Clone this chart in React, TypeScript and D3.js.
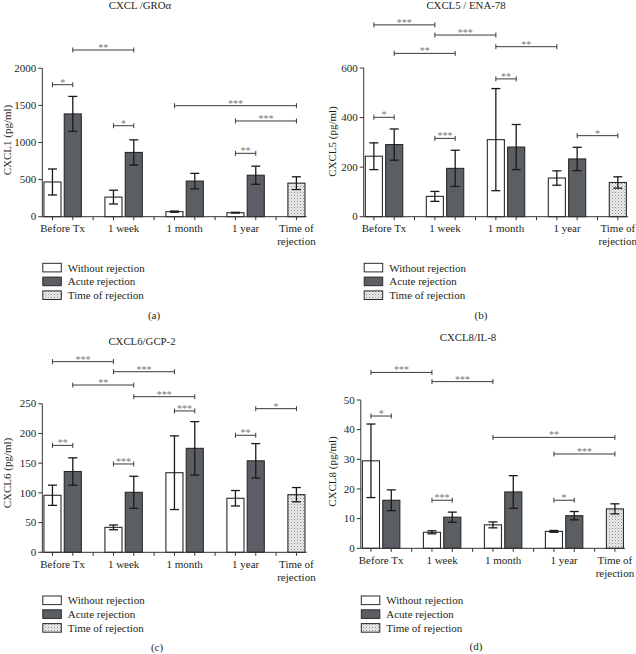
import React from "react";
import * as d3 from "d3";

// ---------- data ----------
const categories = ["Before Tx", "1 week", "1 month", "1 year"];
const torLabel = ["Time of", "rejection"];
const legendLabels = ["Without rejection", "Acute rejection", "Time of rejection"];

// (a) CXCL1
const withoutA = [468, 264, 68, 54];
const withoutAErr = [175, 93, 8, 5];
const acuteA = [1385, 866, 480, 559];
const acuteAErr = [236, 170, 104, 122];
const torA = [452];
const torAErr = [86];
const ticksA = [0, 500, 1000, 1500, 2000];
const bracketsA = [
  { from: 0, to: 1, y: 1779, label: "*" },
  { from: 1, to: 4, y: 2247, label: "**" },
  { from: 3, to: 4, y: 1226, label: "*" },
  { from: 6, to: 12, y: 1496, label: "***" },
  { from: 9, to: 12, y: 1290, label: "***" },
  { from: 9, to: 10, y: 854, label: "**" },
];

// (b) CXCL5
const withoutB = [244, 82, 311, 156];
const withoutBErr = [54, 20, 206, 29];
const acuteB = [291, 195, 281, 233];
const acuteBErr = [63, 73, 91, 47];
const torB = [138];
const torBErr = [23];
const ticksB = [0, 200, 400, 600];
const bracketsB = [
  { from: 0, to: 3, y: 774, label: "***" },
  { from: 3, to: 6, y: 733, label: "***" },
  { from: 1, to: 4, y: 659, label: "**" },
  { from: 6, to: 9, y: 686, label: "**" },
  { from: 6, to: 7, y: 556, label: "**" },
  { from: 0, to: 1, y: 401, label: "*" },
  { from: 3, to: 4, y: 316, label: "***" },
  { from: 10, to: 12, y: 327, label: "*" },
];

// (c) CXCL6
const withoutC = [96, 42, 134, 91];
const withoutCErr = [17, 4, 62, 13];
const acuteC = [136, 101, 175, 154];
const acuteCErr = [23, 27, 45, 29];
const torC = [97];
const torCErr = [12];
const ticksC = [0, 50, 100, 150, 200, 250];
const bracketsC = [
  { from: 0, to: 3, y: 321, label: "***" },
  { from: 3, to: 6, y: 304, label: "***" },
  { from: 1, to: 4, y: 281.6, label: "**" },
  { from: 4, to: 7, y: 262, label: "***" },
  { from: 6, to: 7, y: 238, label: "***" },
  { from: 10, to: 12, y: 241.8, label: "*" },
  { from: 0, to: 1, y: 180, label: "**" },
  { from: 3, to: 4, y: 148.7, label: "***" },
  { from: 9, to: 10, y: 197, label: "**" },
];

// (d) CXCL8
const withoutD = [29.5, 5.4, 7.9, 5.7];
const withoutDErr = [12.4, 0.5, 1, 0.3];
const acuteD = [16.2, 10.5, 19, 11];
const acuteDErr = [3.5, 1.7, 5.5, 1.4];
const torD = [13.3];
const torDErr = [1.7];
const ticksD = [0, 10, 20, 30, 40, 50];
const bracketsD = [
  { from: 0, to: 3, y: 59.3, label: "***" },
  { from: 3, to: 6, y: 56.2, label: "***" },
  { from: 0, to: 1, y: 44.6, label: "*" },
  { from: 6, to: 12, y: 37.4, label: "**" },
  { from: 9, to: 12, y: 31.8, label: "***" },
  { from: 3, to: 4, y: 16.2, label: "***" },
  { from: 9, to: 10, y: 16.2, label: "*" },
];

// ---------- layout ----------
const FONT = "'Liberation Serif', 'Times New Roman', serif";
const SLOT = 20.33;
const DARK = "#5b5f63";
const INK = "#231f20";

type Panel = {
  title: string;
  ylabel: string;
  tag: string;
  without: number[];
  withoutErr: number[];
  acute: number[];
  acuteErr: number[];
  tor: number[];
  torErr: number[];
  ticks: number[];
  brackets: { from: number; to: number; y: number; label: string }[];
  axisX: number;
  y0: number;
  yTop: number;
  titlePos: [number, number];
  ylabPos: [number, number];
  legendTop: number;
  tagPos: [number, number];
};

const panels: Panel[] = [
  {
    title: "CXCL /GROα", ylabel: "CXCL1 (pg/ml)", tag: "(a)",
    without: withoutA, withoutErr: withoutAErr, acute: acuteA, acuteErr: acuteAErr, tor: torA, torErr: torAErr,
    ticks: ticksA, brackets: bracketsA,
    axisX: 42.3, y0: 216.7, yTop: 68.3, titlePos: [140, 9], ylabPos: [10.5, 140], legendTop: 263.3, tagPos: [154, 319],
  },
  {
    title: "CXCL5 / ENA-78", ylabel: "CXCL5 (pg/ml)", tag: "(b)",
    without: withoutB, withoutErr: withoutBErr, acute: acuteB, acuteErr: acuteBErr, tor: torB, torErr: torBErr,
    ticks: ticksB, brackets: bracketsB,
    axisX: 363.7, y0: 216.7, yTop: 68, titlePos: [466, 8.5], ylabPos: [336, 141.5], legendTop: 263.3, tagPos: [481, 319],
  },
  {
    title: "CXCL6/GCP-2", ylabel: "CXCL6 (pg/ml)", tag: "(c)",
    without: withoutC, withoutErr: withoutCErr, acute: acuteC, acuteErr: acuteCErr, tor: torC, torErr: torCErr,
    ticks: ticksC, brackets: bracketsC,
    axisX: 42.3, y0: 552.3, yTop: 403.8, titlePos: [142, 345], ylabPos: [11, 473], legendTop: 596, tagPos: [157, 651],
  },
  {
    title: "CXCL8/IL-8", ylabel: "CXCL8 (pg/ml)", tag: "(d)",
    without: withoutD, withoutErr: withoutDErr, acute: acuteD, acuteErr: acuteDErr, tor: torD, torErr: torDErr,
    ticks: ticksD, brackets: bracketsD,
    axisX: 360.8, y0: 548.3, yTop: 400, titlePos: [468, 341], ylabPos: [336, 471.5], legendTop: 596, tagPos: [476, 650],
  },
];

function ChartPanel({ p, idx }: { p: Panel; idx: number }) {
  const x = d3
    .scaleBand<number>()
    .domain(d3.range(13))
    .range([p.axisX, p.axisX + 13 * SLOT])
    .paddingInner(0.16)
    .paddingOuter(0.08);
  const yMax = p.ticks[p.ticks.length - 1];
  const y = d3.scaleLinear().domain([0, yMax]).range([p.y0, p.yTop]);
  const bw = x.bandwidth();
  const cx = (s: number) => (x(s) as number) + bw / 2;

  type Bar = { slot: number; v: number; e: number; kind: number };
  const bars: Bar[] = [];
  categories.forEach((_, g) => {
    bars.push({ slot: 3 * g, v: p.without[g], e: p.withoutErr[g], kind: 0 });
    bars.push({ slot: 3 * g + 1, v: p.acute[g], e: p.acuteErr[g], kind: 1 });
  });
  p.tor.forEach((v, i) => bars.push({ slot: 12, v, e: p.torErr[i], kind: 2 }));

  const fills = ["#ffffff", DARK, `url(#dots${idx})`];
  const axisEnd = p.axisX + 13 * SLOT;
  const xlabY = p.y0 + 15.3;

  return (
    <g>
      <defs>
        <pattern id={`dots${idx}`} width={3} height={3} patternUnits="userSpaceOnUse">
          <rect width={3} height={3} fill="#ececec" />
          <rect x={0} y={0} width={1} height={1} fill="#8c8c8c" />
          <rect x={1.5} y={1.5} width={1} height={1} fill="#b0b0b0" />
        </pattern>
      </defs>
      {/* title */}
      <text x={p.titlePos[0]} y={p.titlePos[1]} textAnchor="middle" fontSize={10.8} fill={INK}>
        {p.title}
      </text>
      {/* y label */}
      <text
        transform={`translate(${p.ylabPos[0]},${p.ylabPos[1]}) rotate(-90)`}
        textAnchor="middle"
        fontSize={11}
        fill={INK}
      >
        {p.ylabel}
      </text>
      {/* bars */}
      {bars.map((b, i) => (
        <rect
          key={i}
          x={x(b.slot)}
          y={y(b.v)}
          width={bw}
          height={p.y0 - y(b.v)}
          fill={fills[b.kind]}
          stroke="#2a2a2a"
          strokeWidth={1.1}
        />
      ))}
      {/* error bars */}
      {bars.map((b, i) => {
        const c = cx(b.slot);
        const hi = y(b.v + b.e);
        const lo = y(Math.max(0, b.v - b.e));
        return (
          <g key={`e${i}`} stroke="#1a1a1a" strokeWidth={1.3}>
            <line x1={c} x2={c} y1={hi} y2={lo} />
            <line x1={c - 4.5} x2={c + 4.5} y1={hi} y2={hi} />
            <line x1={c - 4.5} x2={c + 4.5} y1={lo} y2={lo} />
          </g>
        );
      })}
      {/* y axis */}
      <g stroke="#333" strokeWidth={1}>
        <line x1={p.axisX} x2={p.axisX} y1={p.y0} y2={y(yMax)} />
        {p.ticks.map((t) => (
          <line key={t} x1={p.axisX - 4} x2={p.axisX} y1={y(t)} y2={y(t)} />
        ))}
        <line x1={p.axisX} x2={axisEnd} y1={p.y0} y2={p.y0} />
        {d3.range(13).map((s) => (
          <line key={s} x1={cx(s)} x2={cx(s)} y1={p.y0} y2={p.y0 + 3.5} />
        ))}
      </g>
      {p.ticks.map((t) => (
        <text key={t} x={p.axisX - 6} y={y(t)} dy="0.33em" textAnchor="end" fontSize={11} fill={INK}>
          {t}
        </text>
      ))}
      {/* x labels */}
      {categories.map((c, g) => (
        <text
          key={c}
          x={(cx(3 * g) + cx(3 * g + 1)) / 2}
          y={xlabY}
          textAnchor="middle"
          fontSize={11}
          fill={INK}
        >
          {c}
        </text>
      ))}
      {torLabel.map((t, i) => (
        <text key={t} x={cx(12)} y={xlabY + i * 13} textAnchor="middle" fontSize={11} fill={INK}>
          {t}
        </text>
      ))}
      {/* significance brackets */}
      {p.brackets.map((br, i) => {
        const x1 = cx(br.from);
        const x2 = cx(br.to);
        const yy = y(br.y);
        return (
          <g key={`b${i}`}>
            <g stroke="#3a3a3a" strokeWidth={1}>
              <line x1={x1} x2={x2} y1={yy} y2={yy} />
              <line x1={x1} x2={x1} y1={yy - 2.5} y2={yy + 2.5} />
              <line x1={x2} x2={x2} y1={yy - 2.5} y2={yy + 2.5} />
            </g>
            <text x={(x1 + x2) / 2} y={yy + 1} textAnchor="middle" fontSize={10} fill="#777">
              {br.label}
            </text>
          </g>
        );
      })}
      {/* legend */}
      {legendLabels.map((l, i) => {
        const top = p.legendTop + i * 13.8;
        return (
          <g key={l}>
            <rect
              x={p.axisX + 0.5}
              y={top}
              width={18.5}
              height={8.6}
              fill={fills[i]}
              stroke="#2a2a2a"
              strokeWidth={1}
            />
            <text x={p.axisX + 25.5} y={top + 8.3} fontSize={11} fill={INK}>
              {l}
            </text>
          </g>
        );
      })}
      <text x={p.tagPos[0]} y={p.tagPos[1]} textAnchor="middle" fontSize={11} fill={INK}>
        {p.tag}
      </text>
    </g>
  );
}

export default function App() {
  return (
    <svg
      width={636}
      height={654}
      style={{ position: "absolute", left: 0, top: 0, display: "block", background: "#fff" }}
      fontFamily={FONT}
    >
      <rect width={636} height={654} fill="#fff" />
      {panels.map((p, i) => (
        <ChartPanel key={p.tag} p={p} idx={i} />
      ))}
    </svg>
  );
}
